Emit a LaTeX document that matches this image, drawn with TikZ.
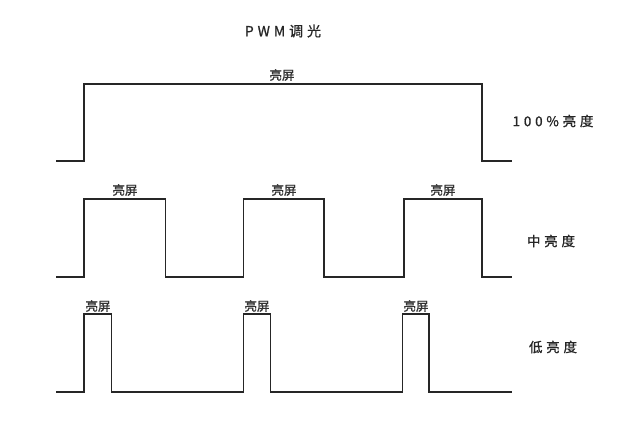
\documentclass[tikz,border=0pt]{standalone}
\usepackage{fontspec}
\setmainfont{Noto Sans CJK SC}
\newfontfamily\cjk[FakeBold=1.2]{Noto Sans CJK SC}
\newfontfamily\cjkwide[LetterSpace=28,FakeBold=1.0]{Noto Sans CJK SC}
\begin{document}
\begin{tikzpicture}[x=1pt,y=-1pt,
  wave/.style={line width=1.6pt,color=black!85,line join=miter},
  lbl/.style={font=\cjk\fontsize{12.5}{12.5}\selectfont,text=black!80,inner sep=0pt},
  side/.style={font=\cjkwide\fontsize{13.5}{13.5}\selectfont,text=black!85,inner sep=0pt},
  ttl/.style={font=\cjkwide\fontsize{14}{14}\selectfont,text=black!85,inner sep=0pt}]
\useasboundingbox[fill=white] (0,0) rectangle (640,421);
% title
\node[ttl] (title) at (283,31) {PWM调光};
% row 1
\draw[wave] (56,161) -- (84,161) -- (84,84) -- (482,84) -- (482,161) -- (512,161);
\node[lbl] (l1) at (282,75) {亮屏};
\node[side] (s1) at (553,121) {100\%亮度};
% row 2
\draw[wave] (56,277) -- (84,277) -- (84,199) -- (165.5,199) -- (165.5,277)
  -- (243.5,277) -- (243.5,199) -- (324,199) -- (324,277)
  -- (404,277) -- (404,199) -- (482,199) -- (482,277) -- (512,277);
\node[lbl] (l2a) at (125,190) {亮屏};
\node[lbl] (l2b) at (284,190) {亮屏};
\node[lbl] (l2c) at (443,190) {亮屏};
\node[side] (s2) at (551,241) {中亮度};
% row 3
\draw[wave] (56,392) -- (84,392) -- (84,314) -- (111.5,314) -- (111.5,392)
  -- (243.5,392) -- (243.5,314) -- (270.5,314) -- (270.5,392)
  -- (402.5,392) -- (402.5,314) -- (429,314) -- (429,392) -- (512,392);
\node[lbl] (l3a) at (98,306) {亮屏};
\node[lbl] (l3b) at (257,306) {亮屏};
\node[lbl] (l3c) at (416,306) {亮屏};
\node[side] (s3) at (553,347) {低亮度};
\end{tikzpicture}
\end{document}
